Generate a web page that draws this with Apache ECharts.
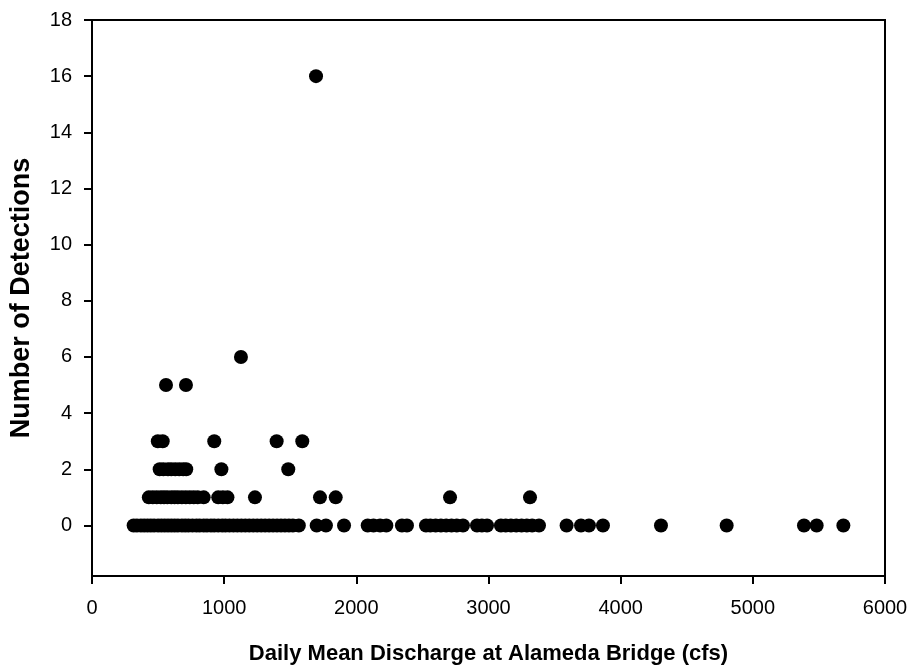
<!DOCTYPE html>
<html>
<head>
<meta charset="utf-8">
<script src="https://cdn.jsdelivr.net/npm/echarts@6/dist/echarts.min.js"></script>
<style>
html,body{margin:0;padding:0;background:#fff;}
#chart{width:913px;height:670px;}
</style>
</head>
<body>
<div id="chart"></div>
<script>
// Discharge (cfs) values for each number of detections
const det0 = [315, 340, 370, 395, 420, 445, 470, 500, 525, 550, 575, 600, 625, 650, 680, 705, 730, 760, 790, 815, 845, 870, 900, 925, 955, 985, 1010, 1040, 1070, 1100, 1130, 1160, 1190, 1220, 1250, 1280, 1310, 1340, 1370, 1400, 1430, 1460, 1490, 1520, 1565, 1700, 1770, 1907, 2086, 2130, 2180, 2227, 2345, 2383, 2527, 2560, 2600, 2640, 2680, 2720, 2760, 2807, 2913, 2950, 2989, 3094, 3130, 3170, 3210, 3250, 3290, 3330, 3382, 3591, 3700, 3760, 3866, 4305, 4802, 5387, 5483, 5685];
const det1 = [430, 460, 490, 520, 545, 570, 600, 625, 650, 680, 710, 740, 770, 800, 845, 955, 990, 1025, 1233, 1725, 1844, 2709, 3314];
const det2 = [512, 540, 575, 600, 630, 660, 690, 713, 979, 1485];
const det3 = [498, 535, 925, 1397, 1591];
const det5 = [560, 711];
const det6 = [1127];
const det16 = [1695];
const yTicks = [0, 2, 4, 6, 8, 10, 12, 14, 16, 18];
const xTicks = [0, 1000, 2000, 3000, 4000, 5000, 6000];

const groups = [[0, det0], [1, det1], [2, det2], [3, det3], [5, det5], [6, det6], [16, det16]];
const points = [];
groups.forEach(([y, xs]) => xs.forEach(x => points.push([x, y])));

const chart = echarts.init(document.getElementById('chart'));
const font = 'Liberation Sans, Arial, sans-serif';
chart.setOption({
  animation: false,
  backgroundColor: '#fff',
  grid: {left: 92, right: 28, top: 20, bottom: 94, show: true, borderColor: '#000', borderWidth: 2, backgroundColor: 'transparent'},
  xAxis: {
    type: 'value', min: xTicks[0], max: xTicks[xTicks.length - 1], interval: 1000,
    name: 'Daily Mean Discharge at Alameda Bridge (cfs)', nameLocation: 'middle', nameGap: 67,
    nameTextStyle: {fontFamily: font, fontSize: 22, fontWeight: 'bold', color: '#000'},
    axisLine: {show: true, onZero: false, lineStyle: {color: '#000', width: 2}},
    axisTick: {show: true, inside: false, length: 8, lineStyle: {color: '#000', width: 2}},
    axisLabel: {fontFamily: font, fontSize: 20, color: '#000', margin: 22, formatter: v => String(v)},
    splitLine: {show: false}
  },
  yAxis: {
    type: 'value', min: -1.8, max: 18,
    name: 'Number of Detections', nameLocation: 'middle', nameGap: 57, nameRotate: 90,
    nameTextStyle: {fontFamily: font, fontSize: 27, fontWeight: 'bold', color: '#000'},
    axisLine: {show: true, onZero: false, lineStyle: {color: '#000', width: 2}},
    axisTick: {show: true, inside: false, length: 8, customValues: yTicks, lineStyle: {color: '#000', width: 2}},
    axisLabel: {fontFamily: font, fontSize: 20, color: '#000', margin: 20, customValues: yTicks},
    splitLine: {show: false}
  },
  series: [{
    type: 'scatter',
    data: points,
    symbol: 'circle',
    symbolSize: 14,
    itemStyle: {color: '#000', opacity: 1}
  }]
});
</script>
</body>
</html>
